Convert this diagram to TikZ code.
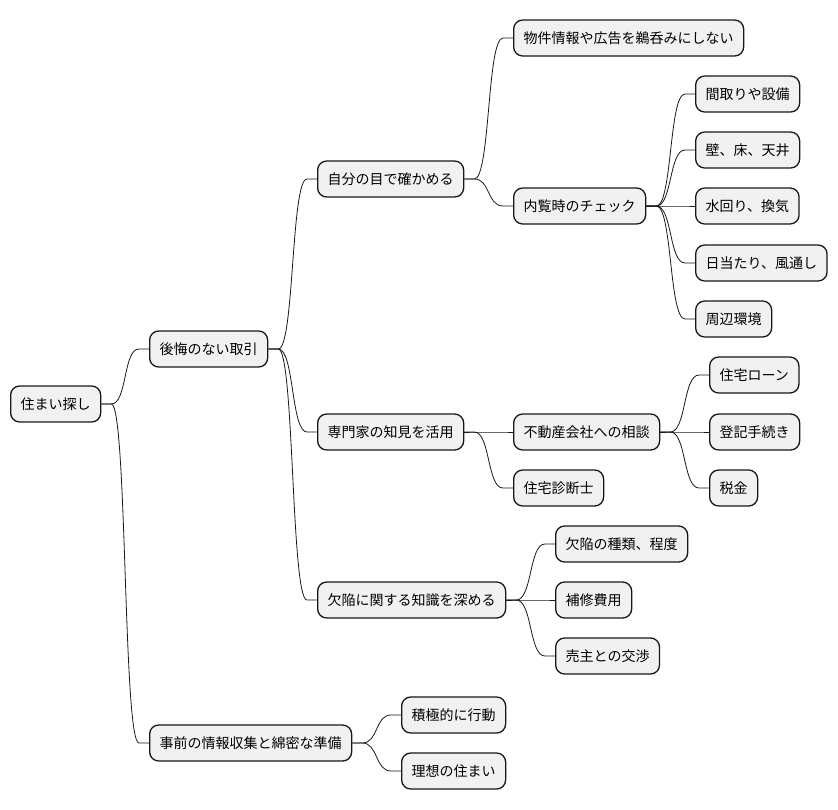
\documentclass[tikz,border=0pt]{standalone}
\usepackage{fontspec}
\setmainfont{Noto Sans CJK JP}
\usetikzlibrary{positioning}
\definecolor{ink}{HTML}{181818}
\definecolor{paper}{HTML}{F1F1F1}
\tikzset{
  topic/.style={draw=ink,fill=paper,line width=1.3pt,rounded corners=9pt,
    anchor=west,minimum height=36pt,inner xsep=10pt,inner ysep=0pt,
    font=\fontsize{14}{16}\selectfont,text=black},
  branch/.style={draw=ink,line width=0.8pt,
    to path={(\tikztostart) -- ++(10pt,0)
      .. controls +(16pt,0) and +(-16pt,0) .. ([xshift=-10pt]\tikztotarget)
      -- (\tikztotarget)}}
}
\begin{document}
\begin{tikzpicture}[x=1pt,y=-1pt]
    \useasboundingbox (0,0) rectangle (838,809);
    \node[topic] (root) at (10,404) {住まい探し};
    \node[topic] (deal) at (149,349) {後悔のない取引};
    \node[topic] (prep) at (149,743) {事前の情報収集と綿密な準備};
    \node[topic] (eyes) at (317,179) {自分の目で確かめる};
    \node[topic] (expert) at (317,432) {専門家の知見を活用};
    \node[topic] (defect) at (317,600) {欠陥に関する知識を深める};
    \node[topic] (ads) at (513,38) {物件情報や広告を鵜呑みにしない};
    \node[topic] (visit) at (513,206) {内覧時のチェック};
    \node[topic] (plan) at (695,94) {間取りや設備};
    \node[topic] (wall) at (695,150) {壁、床、天井};
    \node[topic] (water) at (695,206) {水回り、換気};
    \node[topic] (sun) at (695,263) {日当たり、風通し};
    \node[topic] (area) at (695,319) {周辺環境};
    \node[topic] (agent) at (513,432) {不動産会社への相談};
    \node[topic] (inspect) at (513,488) {住宅診断士};
    \node[topic] (loan) at (709,375) {住宅ローン};
    \node[topic] (regist) at (709,432) {登記手続き};
    \node[topic] (tax) at (709,488) {税金};
    \node[topic] (kind) at (555,544) {欠陥の種類、程度};
    \node[topic] (repair) at (555,600) {補修費用};
    \node[topic] (seller) at (555,656) {売主との交渉};
    \node[topic] (act) at (401,715) {積極的に行動};
    \node[topic] (ideal) at (401,771) {理想の住まい};
    \foreach \a/\b in {root/deal,root/prep,deal/eyes,deal/expert,deal/defect,
        eyes/ads,eyes/visit,visit/plan,visit/wall,visit/water,visit/sun,visit/area,
        expert/agent,expert/inspect,agent/loan,agent/regist,agent/tax,
        defect/kind,defect/repair,defect/seller,prep/act,prep/ideal}
      \draw[branch] (\a.east) to (\b.west);
\end{tikzpicture}
\end{document}
